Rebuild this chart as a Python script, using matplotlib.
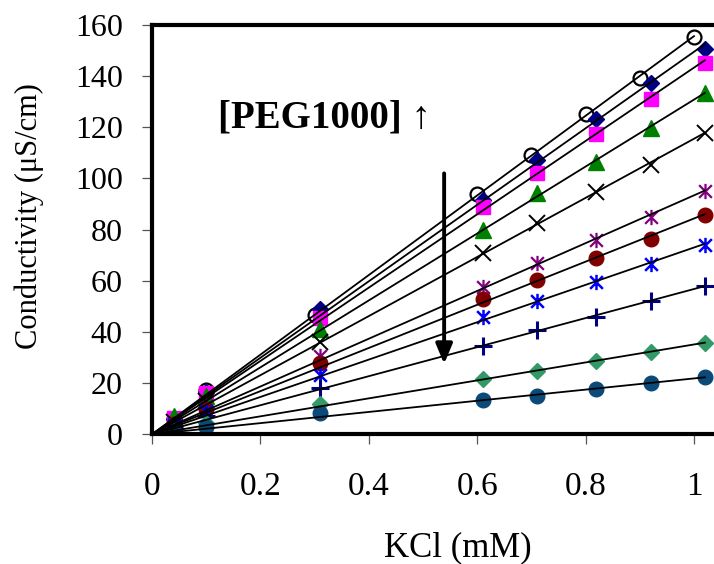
import numpy as np
import matplotlib
matplotlib.use("Agg")
import matplotlib.pyplot as plt
from matplotlib.path import Path

plt.rcParams['font.family'] = ['Liberation Serif', 'DejaVu Serif']

# KCl concentrations (mM)
kcl = [0.04, 0.10, 0.31, 0.61, 0.71, 0.82, 0.92, 1.02]
kcl_open = [0.04, 0.10, 0.30, 0.60, 0.70, 0.80, 0.90, 1.00]

# conductivity (uS/cm), from lowest [PEG1000] (top) to highest (bottom)
s_open = [6, 17.5, 46.6, 93.8, 109.2, 125.1, 139.4, 155.2]
s_navy_diamond = [6, 16.5, 48.9, 91.5, 107.2, 123.3, 137.2, 150.5]
s_square = [6.5, 16, 45.4, 89.0, 102.3, 117.4, 131.0, 145.3]
s_triangle = [7, 15, 41.0, 79.9, 94.2, 106.3, 119.9, 133.3]
s_cross = [5, 13, 36.2, 70.8, 82.5, 94.8, 105.3, 117.9]
s_purple = [4, 11, 30.6, 57.5, 66.8, 76.0, 85.1, 95.2]
s_darkred = [4, 10, 27.8, 52.8, 60.3, 68.8, 76.5, 85.6]
s_blue = [3.5, 9, 23.2, 45.7, 52.1, 59.7, 66.5, 74.0]
s_plus = [3, 7, 18.0, 34.5, 40.8, 46.0, 52.1, 58.0]
s_seagreen = [1.5, 4.5, 11.7, 21.5, 24.7, 28.8, 32.3, 35.6]
s_darkcircle = [1, 3, 8.2, 13.4, 15.0, 17.6, 19.9, 22.5]

# excel style asterisk: an x with a vertical bar
star = Path([(-1, -1), (1, 1), (-1, 1), (1, -1), (0, -1.2), (0, 1.2)],
            [Path.MOVETO, Path.LINETO, Path.MOVETO, Path.LINETO, Path.MOVETO, Path.LINETO])

series = [
    (kcl_open, s_open, dict(marker='o', mfc='none', mec='black', mew=1.6, ms=10)),
    (kcl, s_navy_diamond, dict(marker='D', mfc='#000080', mec='#000080', ms=8.5)),
    (kcl, s_square, dict(marker='s', mfc='#FF00FF', mec='#FF00FF', ms=10)),
    (kcl, s_triangle, dict(marker='^', mfc='#008000', mec='#008000', ms=11)),
    (kcl, s_cross, dict(marker='x', mec='black', mew=1.4, ms=11)),
    (kcl, s_purple, dict(marker=star, mec='#800080', mew=1.6, ms=11)),
    (kcl, s_darkred, dict(marker='o', mfc='#800000', mec='#800000', ms=10.5)),
    (kcl, s_blue, dict(marker=star, mec='#0000FF', mew=1.8, ms=11)),
    (kcl, s_plus, dict(marker='+', mec='#000080', mew=2.2, ms=13)),
    (kcl, s_seagreen, dict(marker='D', mfc='#339966', mec='#339966', ms=8.5)),
    (kcl, s_darkcircle, dict(marker='o', mfc='#0B4A78', mec='#0B4A78', ms=10.5)),
]

fig = plt.figure(figsize=(7.14, 5.64), dpi=100)
ax = fig.add_axes([152 / 714, 1 - 434.3 / 564, 1 - 152 / 714, 409.3 / 564])

for xs, ys, style in series:
    x = np.array(xs)
    y = np.array(ys)
    slope = np.sum(x * y) / np.sum(x * x)  # trend line through origin
    xf = np.array([0, x.max()])
    ax.plot(xf, slope * xf, color='black', lw=1.3, zorder=3)
    ax.plot(x, y, ls='none', zorder=2, **style)

ax.set_xlim(0, (714 - 152) / 542)
ax.set_ylim(0, 160)
ax.set_xticks([0, 0.2, 0.4, 0.6, 0.8, 1.0])
ax.set_xticklabels(['0', '0.2', '0.4', '0.6', '0.8', '1'])
ax.set_yticks(range(0, 161, 20))

for side in ['left', 'bottom', 'top']:
    ax.spines[side].set_linewidth(3)
ax.spines['right'].set_visible(False)
ax.tick_params(axis='x', length=7, width=0.9, color='#555555', pad=20, labelsize=24)
ax.tick_params(axis='y', length=7, width=0.9, color='#555555', pad=14, labelsize=23)

ax.set_xlabel('KCl (mM)', fontsize=25, va='center')
ax.xaxis.set_label_coords((458 - 152) / 562, (434.3 - 548) / 409.3)
ax.set_ylabel('Conductivity (μS/cm)', fontsize=22, va='center')
ax.yaxis.set_label_coords((29 - 152) / 562, (434.3 - 216) / 409.3)

ax.text(0.319, 123.7, '[PEG1000] ↑', fontsize=28, fontweight='bold',
        ha='center', va='center')
ax.annotate('', xy=(0.539, 27.5), xytext=(0.539, 102),
            arrowprops=dict(arrowstyle='-|>,head_width=0.25,head_length=0.6',
                            color='black', lw=2.8,
                            mutation_scale=20, shrinkA=0, shrinkB=0))

fig.savefig('out.png', dpi=100)
